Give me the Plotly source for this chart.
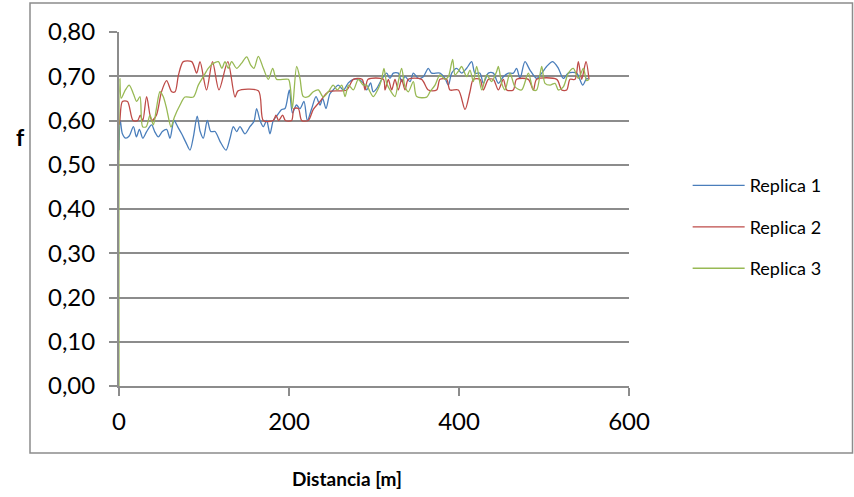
import plotly.graph_objects as go

# Replica 1 (blue)
dist_r1 = [0, 1.5, 4, 8, 12, 17, 20.5, 24, 28, 32.5, 38.4, 42, 46.3, 51, 56, 60, 64.7, 69, 73.7, 78.8,
           83.5, 87.5, 92, 95.5, 99.2, 103.9, 108, 113, 118.8, 125.9, 130.6, 134.5, 138.4, 142.3, 148.2,
           154, 158.8, 161.9, 165.9, 169.8, 173.7, 177.6, 181.5, 185.5, 191.4, 195.3, 200.4, 204, 208.8,
           213, 217.6, 221.6, 226.7, 231.8, 236.5, 239.6, 243.5, 248, 252, 258, 264, 269.8, 275.7, 281.5,
           287.4, 291.4, 296, 299, 303.1, 309, 314.9, 318.8, 322.7, 328.6, 332.5, 336.5, 342.4, 346.3,
           352.2, 358, 363.9, 367.8, 377.6, 383.5, 387.5, 391.4, 397.3, 403.1, 409, 414.9, 418.8, 424.7,
           428.6, 434.5, 440.4, 446.3, 452.2, 458, 463.9, 467.8, 471.8, 477.6, 483.5, 491.4, 497.3, 503.1,
           510.2, 516.9, 522.7, 528.6, 538.4, 545.5, 550.2, 552.2]
f_r1 = [0.533, 0.600, 0.570, 0.560, 0.565, 0.586, 0.563, 0.580, 0.560, 0.575, 0.590, 0.575, 0.563, 0.575,
        0.580, 0.560, 0.600, 0.586, 0.570, 0.550, 0.533, 0.563, 0.610, 0.575, 0.560, 0.600, 0.575, 0.575,
        0.553, 0.533, 0.560, 0.586, 0.575, 0.586, 0.570, 0.586, 0.598, 0.627, 0.600, 0.586, 0.600, 0.570,
        0.600, 0.610, 0.625, 0.627, 0.669, 0.617, 0.635, 0.627, 0.643, 0.600, 0.627, 0.654, 0.635, 0.650,
        0.627, 0.660, 0.669, 0.680, 0.669, 0.685, 0.693, 0.693, 0.685, 0.669, 0.685, 0.665, 0.672, 0.693,
        0.707, 0.695, 0.707, 0.707, 0.688, 0.699, 0.688, 0.707, 0.695, 0.699, 0.718, 0.707, 0.707, 0.695,
        0.680, 0.707, 0.718, 0.707, 0.718, 0.733, 0.707, 0.707, 0.684, 0.707, 0.707, 0.684, 0.699, 0.707,
        0.707, 0.718, 0.695, 0.733, 0.714, 0.695, 0.707, 0.722, 0.733, 0.718, 0.695, 0.707, 0.707, 0.680,
        0.695, 0.693]

# Replica 2 (red)
dist_r2 = [0, 1, 4, 10, 16.5, 22, 25, 28, 32.5, 38.4, 44, 50, 56, 62, 66, 70, 75.6, 85.5, 91.4, 95.3,
           103, 110, 117.6, 128, 136.5, 140, 163.9, 169.8, 181.5, 184.7, 187.8, 192.5, 195.7, 203.1, 205.9,
           211, 214.9, 222.7, 228.6, 236.5, 246.3, 267.8, 275.7, 286, 289.5, 293, 311, 313, 316.9, 320.8,
           324.7, 328.6, 332.5, 336.5, 340.4, 356, 363.9, 373.7, 377.6, 385.5, 389.4, 399.2, 407.1, 412.9,
           416.9, 424.7, 428.6, 434.5, 440.4, 446.3, 452.2, 456.1, 463.9, 467.8, 481.6, 487.5, 491.4, 515,
           520.8, 526.7, 530.6, 536.5, 540.4, 544.3, 549.4, 553]
f_r2 = [0.590, 0.600, 0.643, 0.643, 0.600, 0.600, 0.612, 0.600, 0.654, 0.600, 0.612, 0.665, 0.690, 0.665,
        0.665, 0.703, 0.733, 0.733, 0.707, 0.733, 0.669, 0.733, 0.669, 0.733, 0.653, 0.667, 0.667, 0.600,
        0.600, 0.612, 0.600, 0.612, 0.600, 0.600, 0.627, 0.627, 0.600, 0.600, 0.625, 0.643, 0.665, 0.669,
        0.693, 0.693, 0.669, 0.693, 0.693, 0.669, 0.693, 0.669, 0.693, 0.669, 0.693, 0.669, 0.693, 0.693,
        0.669, 0.669, 0.693, 0.693, 0.669, 0.669, 0.625, 0.665, 0.693, 0.693, 0.669, 0.693, 0.693, 0.669,
        0.693, 0.669, 0.669, 0.693, 0.693, 0.669, 0.693, 0.693, 0.669, 0.669, 0.693, 0.693, 0.733, 0.693,
        0.733, 0.693]

# Replica 3 (green)
dist_r3 = [0, 1, 2.5, 7.5, 12, 17, 20.8, 24.7, 27.8, 32, 36.5, 40.4, 44, 48.2, 52, 56, 61.2, 65, 71.8,
           77.6, 87.5, 93.3, 99.2, 105, 110.9, 117, 121, 124.7, 128.6, 132.5, 138.4, 144, 150.2, 155, 158.8,
           163.9, 169.8, 175.7, 180.8, 185.5, 199.2, 201.5, 204, 209, 212.9, 216.8, 222.7, 228.6, 234.5,
           240.4, 246.3, 252, 256.9, 262, 266, 270, 275.7, 281.5, 287.4, 291.4, 295.3, 299.2, 305, 309,
           311.7, 314.9, 318.8, 324.7, 328.6, 332.5, 336.5, 340.4, 346.3, 350.2, 362, 365.9, 371.8, 377.6,
           383.5, 387.5, 392.5, 395.3, 399.2, 403.1, 409, 412.9, 416.9, 420.8, 426.7, 432.5, 438.4, 444.3,
           446.3, 450.2, 454.1, 460, 465.9, 473.7, 481.6, 487.5, 491.4, 497.3, 501.2, 507.1, 513, 516.9,
           522.7, 528.6, 534.5, 540.4, 546.3, 550.2, 553]
f_r3 = [0.000, 0.695, 0.650, 0.669, 0.680, 0.660, 0.643, 0.654, 0.586, 0.586, 0.612, 0.590, 0.627, 0.665,
        0.654, 0.627, 0.585, 0.607, 0.635, 0.653, 0.653, 0.680, 0.699, 0.718, 0.729, 0.733, 0.718, 0.733,
        0.718, 0.733, 0.718, 0.729, 0.744, 0.725, 0.718, 0.745, 0.718, 0.693, 0.718, 0.693, 0.693, 0.676,
        0.627, 0.722, 0.695, 0.654, 0.654, 0.665, 0.669, 0.653, 0.665, 0.680, 0.669, 0.680, 0.654, 0.680,
        0.669, 0.693, 0.680, 0.680, 0.665, 0.654, 0.672, 0.693, 0.718, 0.684, 0.669, 0.654, 0.688, 0.718,
        0.676, 0.665, 0.688, 0.654, 0.653, 0.665, 0.680, 0.703, 0.693, 0.699, 0.738, 0.703, 0.711, 0.722,
        0.699, 0.714, 0.688, 0.722, 0.669, 0.703, 0.688, 0.711, 0.722, 0.684, 0.669, 0.707, 0.676, 0.669,
        0.707, 0.669, 0.669, 0.722, 0.684, 0.680, 0.684, 0.669, 0.676, 0.707, 0.718, 0.695, 0.718, 0.690,
        0.693]

series_names = ["Replica 1", "Replica 2", "Replica 3"]
series_colors = ["#4A7EBB", "#BE4B48", "#98B954"]
y_ticks = [0, 0.1, 0.2, 0.3, 0.4, 0.5, 0.6, 0.7, 0.8]
x_ticks = [0, 200, 400, 600]

FONT = "Lato, 'Open Sans', sans-serif"
GRID = "#8C8C8C"

fig = go.Figure()
for name, xs, ys, col in zip(series_names, [dist_r1, dist_r2, dist_r3], [f_r1, f_r2, f_r3], series_colors):
    fig.add_trace(go.Scatter(x=xs, y=ys, mode="lines", name=name,
                             line=dict(color=col, width=1.3, shape="spline", smoothing=0.8),
                             legendgroup=name))

fig.update_layout(
    width=854, height=497,
    margin=dict(l=119, r=225, t=32, b=111),
    paper_bgcolor="white", plot_bgcolor="white",
    separators=",.",
    font=dict(family=FONT, color="#000000"),
    showlegend=True,
    legend=dict(x=1.115, y=0.618, xanchor="left", yanchor="top",
                font=dict(size=18, family=FONT, color="#000000"),
                tracegroupgap=15, itemwidth=52, bgcolor="rgba(0,0,0,0)"),
    xaxis=dict(range=[0, 600], tickvals=x_ticks, showgrid=False, zeroline=False,
               showline=True, linecolor=GRID, linewidth=2,
               ticks="outside", ticklen=8, tickwidth=2, tickcolor=GRID,
               tickfont=dict(size=24, family=FONT, color="#000000"), ticklabelstandoff=5),
    yaxis=dict(range=[0, 0.8], tickvals=y_ticks, tickformat=".2f", showgrid=True,
               gridcolor=GRID, gridwidth=2, zeroline=False,
               showline=True, linecolor=GRID, linewidth=2,
               ticks="outside", ticklen=8, tickwidth=2, tickcolor=GRID,
               tickfont=dict(size=24, family=FONT, color="#000000"), ticklabelstandoff=9),
)

# outer chart frame
fig.add_shape(type="rect", xref="paper", yref="paper",
              x0=(30 - 119) / 510, x1=(852.5 - 119) / 510,
              y0=(386 - 453) / 354, y1=(386 - 3) / 354,
              line=dict(color="#8C8C8C", width=1.5), fillcolor="rgba(0,0,0,0)", layer="below")

fig.add_annotation(text="<b>f</b>", xref="paper", yref="paper",
                   x=(20 - 119) / 510, y=(386 - 137) / 354, showarrow=False,
                   font=dict(size=23, family=FONT, color="#000000"), xanchor="center", yanchor="middle")
fig.add_annotation(text="<b>Distancia [m]</b>", xref="paper", yref="paper",
                   x=(347 - 119) / 510, y=(386 - 478) / 354, showarrow=False,
                   font=dict(size=19, family=FONT, color="#000000"), xanchor="center", yanchor="middle")

fig.write_html("out.html", config={"displayModeBar": False})

# remove the browser's default page margin so the figure sits at the top-left corner
with open("out.html", "r", encoding="utf-8") as fh:
    html = fh.read()
html = html.replace("<body>", '<body style="margin:0;padding:0;">', 1)
with open("out.html", "w", encoding="utf-8") as fh:
    fh.write(html)
